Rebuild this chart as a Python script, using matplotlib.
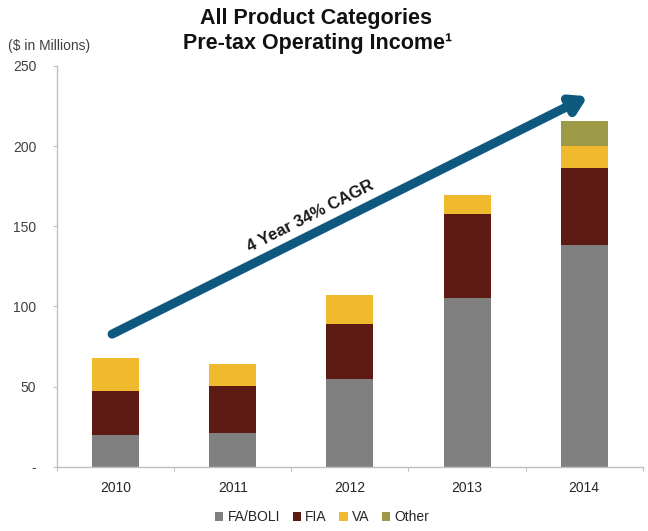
import numpy as np
import matplotlib.pyplot as plt

plt.rcParams['font.family'] = ['Liberation Sans', 'DejaVu Sans']

years = ['2010', '2011', '2012', '2013', '2014']
fa_boli = [20, 21, 54.5, 105.5, 138]
fia = [27.5, 29.5, 34.5, 52, 48]
va = [20.5, 13.5, 18, 12, 14]
other = [0, 0, 0, 0, 15.5]

series = [
    ("FA/BOLI", fa_boli, "#808080"),
    ("FIA", fia, "#5c1a13"),
    ("VA", va, "#f1b92e"),
    ("Other", other, "#9c9a46"),
]

fig = plt.figure(figsize=(6.48, 5.31), dpi=100)
ax = fig.add_axes([0.088, 0.121, 0.904, 0.755])

x = np.arange(len(years))
bottom = np.zeros(len(years))
for name, vals, col in series:
    vals = np.array(vals, dtype=float)
    ax.bar(x, vals, width=0.4, bottom=bottom, color=col, label=name,
           edgecolor='none', zorder=2)
    bottom += vals

ax.set_xlim(-0.5, 4.5)
ax.set_ylim(0, 250)

# y axis: "-" stands in for zero
ax.set_yticks([0, 50, 100, 150, 200, 250])
ax.set_yticklabels(['-', '50', '100', '150', '200', '250'])
ax.tick_params(axis='y', length=3, width=0.8, color='#bfbfbf', pad=12,
               labelsize=10, labelcolor='#404040')

# x axis: labels at bars, small ticks between categories
ax.set_xticks(x)
ax.set_xticklabels(years)
ax.set_xticks(np.arange(-0.5, 4.6, 1.0), minor=True)
ax.tick_params(axis='x', which='major', length=0, pad=10, labelsize=10,
               labelcolor='#262626')
ax.tick_params(axis='x', which='minor', length=3, width=0.8, color='#bfbfbf')

for side in ['top', 'right']:
    ax.spines[side].set_visible(False)
for side in ['left', 'bottom']:
    ax.spines[side].set_color('#bfbfbf')
    ax.spines[side].set_linewidth(1.0)

# growth arrow with its label
ax.annotate('', xy=(4.03, 231), xytext=(-0.03, 82.7),
            arrowprops=dict(arrowstyle='-|>,head_length=0.9,head_width=0.55',
                            lw=6.5, color='#0e5a7e', shrinkA=0, shrinkB=0),
            zorder=3)
ax.text(1.66, 156.5, '4 Year 34% CAGR', rotation=27.0, ha='center', va='center',
        fontsize=12, fontweight='bold', color='#1a1a1a', rotation_mode='anchor')

fig.text(0.487, 0.965, 'All Product Categories', ha='center', va='center',
         fontsize=15.5, fontweight='bold', color='#111111')
fig.text(0.49, 0.918, 'Pre-tax Operating Income\u00b9', ha='center',
         va='center', fontsize=15.5, fontweight='bold', color='#111111')
fig.text(0.012, 0.913, '($ in Millions)', ha='left', va='center',
         fontsize=10, color='#404040')

fig.legend(loc='center', bbox_to_anchor=(0.497, 0.026), ncol=4, frameon=False,
           handlelength=0.6, handleheight=0.6, handletextpad=0.3,
           columnspacing=0.9, fontsize=10, labelcolor='#262626')

fig.savefig('out.png', dpi=100)
